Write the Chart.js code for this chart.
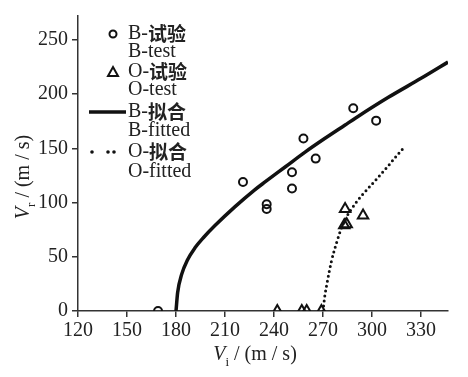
<!DOCTYPE html>
<html>
<head>
<meta charset="utf-8">
<script src="https://cdn.jsdelivr.net/npm/chart.js@4"></script>
<style>
  body { margin: 0; background: #fff; }
  #wrap { width: 468px; height: 377px; position: relative; }
</style>
</head>
<body>
<div id="wrap"><canvas id="chart"></canvas></div>
<script>
// data
const bTestX = [169, 221, 235.5, 235.5, 251, 251, 258, 265.5, 288.5, 302.5];
const bTestY = [0, 119, 98.5, 94, 113, 128, 159, 140.5, 187, 175.5];
const oTestX = [242, 257, 260, 269, 283, 284.5, 283.5, 294.5];
const oTestY = [0, 0, 0, 0, 79, 80, 94, 88];
const bFitX = [180, 181, 183.5, 187, 191.5, 197, 204, 216, 228, 234.5, 247, 259, 271, 283.5, 290, 310, 330, 346.5];
const bFitY = [0, 17, 34, 47, 58, 68, 79, 96, 111.5, 119, 133, 146.5, 159, 171.5, 178, 197, 214.5, 229.5];
const oFitX = [270, 271, 272.5, 275, 278.5, 282.5, 290.5, 297, 303, 310, 315, 320];
const oFitY = [0, 13, 26, 45, 64, 81, 100.5, 112, 122, 134, 143, 151.5];

const serif = "'Liberation Serif', 'Times New Roman', serif";
const ink = "#111";

function pts(xs, ys) {
  return xs.map((x, i) => ({ x: x, y: ys[i] }));
}

// draws runs of text one after another, each with its own font and vertical shift
function drawRuns(ctx, runs, x, y) {
  let cx = x;
  runs.forEach(r => {
    ctx.font = r.font;
    ctx.fillText(r.text, cx, y + (r.dy || 0));
    cx += ctx.measureText(r.text).width;
  });
  return cx;
}
function runsWidth(ctx, runs) {
  let w = 0;
  runs.forEach(r => { ctx.font = r.font; w += ctx.measureText(r.text).width; });
  return w;
}

const decor = {
  id: "decor",
  afterDraw(chart) {
    const ctx = chart.ctx;
    ctx.save();
    ctx.fillStyle = "#222";
    ctx.textBaseline = "alphabetic";
    ctx.textAlign = "left";

    // axis titles
    const big = "20px " + serif, it = "italic 20px " + serif, sub = "13px " + serif;
    const xRuns = [{ text: "V", font: it }, { text: "i", font: sub, dy: 6 }, { text: " / (m / s)", font: big }];
    const xw = runsWidth(ctx, xRuns);
    drawRuns(ctx, xRuns, 255 - xw / 2, 360);

    const yRuns = [{ text: "V", font: it }, { text: "r", font: sub, dy: 6 }, { text: " / (m / s)", font: big }];
    const yw = runsWidth(ctx, yRuns);
    ctx.save();
    ctx.translate(29, 177);
    ctx.rotate(-Math.PI / 2);
    drawRuns(ctx, yRuns, -yw / 2, 0);
    ctx.restore();

    // legend
    const lx = 128;
    const cjk = "bold 19px 'Noto Sans CJK SC', sans-serif";
    const rows = [
      [{ text: "B-", font: big }, { text: "试验", font: cjk }],
      [{ text: "B-test", font: big }],
      [{ text: "O-", font: big }, { text: "试验", font: cjk }],
      [{ text: "O-test", font: big }],
      [{ text: "B-", font: big }, { text: "拟合", font: cjk }],
      [{ text: "B-fitted", font: big }],
      [{ text: "O-", font: big }, { text: "拟合", font: cjk }],
      [{ text: "O-fitted", font: big }]
    ];
    const rowY = [34, 52, 72, 90, 112, 131, 152, 172];
    ctx.textBaseline = "middle";
    rows.forEach((r, i) => drawRuns(ctx, r, lx, rowY[i]));

    ctx.strokeStyle = ink;
    ctx.lineWidth = 2;
    ctx.beginPath();
    ctx.arc(113, 34, 3.5, 0, Math.PI * 2);
    ctx.stroke();

    ctx.beginPath();
    ctx.moveTo(113, 67);
    ctx.lineTo(118, 76);
    ctx.lineTo(108, 76);
    ctx.closePath();
    ctx.stroke();

    ctx.lineWidth = 3.5;
    ctx.beginPath();
    ctx.moveTo(89, 112);
    ctx.lineTo(126, 112);
    ctx.stroke();

    ctx.fillStyle = ink;
    [92, 108, 114].forEach(d => {
      ctx.beginPath();
      ctx.arc(d, 152, 1.8, 0, Math.PI * 2);
      ctx.fill();
    });
    ctx.restore();
  }
};

const ctx = document.getElementById("chart").getContext("2d");
window.myChart = new Chart(ctx, {
  type: "scatter",
  data: {
    datasets: [
      {
        label: "B-fitted",
        data: pts(bFitX, bFitY),
        showLine: true,
        borderColor: ink,
        borderWidth: 3.5,
        pointRadius: 0,
        cubicInterpolationMode: "monotone",
        clip: 0
      },
      {
        label: "O-fitted",
        data: pts(oFitX, oFitY),
        showLine: true,
        borderColor: ink,
        borderWidth: 3,
        borderDash: [0, 5],
        borderCapStyle: "round",
        pointRadius: 0,
        cubicInterpolationMode: "monotone",
        clip: 0
      },
      {
        label: "B-test",
        data: pts(bTestX, bTestY),
        pointStyle: "circle",
        pointRadius: 4,
        borderWidth: 2,
        borderColor: ink,
        backgroundColor: "rgba(0,0,0,0)",
        clip: 0
      },
      {
        label: "O-test",
        data: pts(oTestX, oTestY),
        pointStyle: "triangle",
        pointRadius: 6,
        borderWidth: 2,
        borderColor: ink,
        backgroundColor: "rgba(0,0,0,0)",
        clip: 0
      }
    ]
  },
  options: {
    responsive: true,
    maintainAspectRatio: false,
    animation: false,
    layout: { padding: { left: 0, top: 10, right: 20, bottom: 0 } },
    plugins: {
      legend: { display: false },
      tooltip: { enabled: false }
    },
    scales: {
      x: {
        type: "linear",
        min: 120,
        max: 346.5,
        afterFit: s => { s.height = 66; },
        border: { color: "#333", width: 1.5 },
        grid: { drawOnChartArea: false, drawTicks: true, tickLength: 6, color: "#333", lineWidth: 1.5 },
        ticks: { stepSize: 30, includeBounds: false, color: "#222", padding: 2, font: { family: serif, size: 20 } }
      },
      y: {
        type: "linear",
        min: 0,
        max: 272,
        afterFit: s => { s.width = 78; },
        border: { color: "#333", width: 1.5 },
        grid: { drawOnChartArea: false, drawTicks: true, tickLength: 6, color: "#333", lineWidth: 1.5 },
        ticks: { stepSize: 50, includeBounds: false, color: "#222", padding: 4, font: { family: serif, size: 20 } }
      }
    }
  },
  plugins: [decor]
});
</script>
</body>
</html>
